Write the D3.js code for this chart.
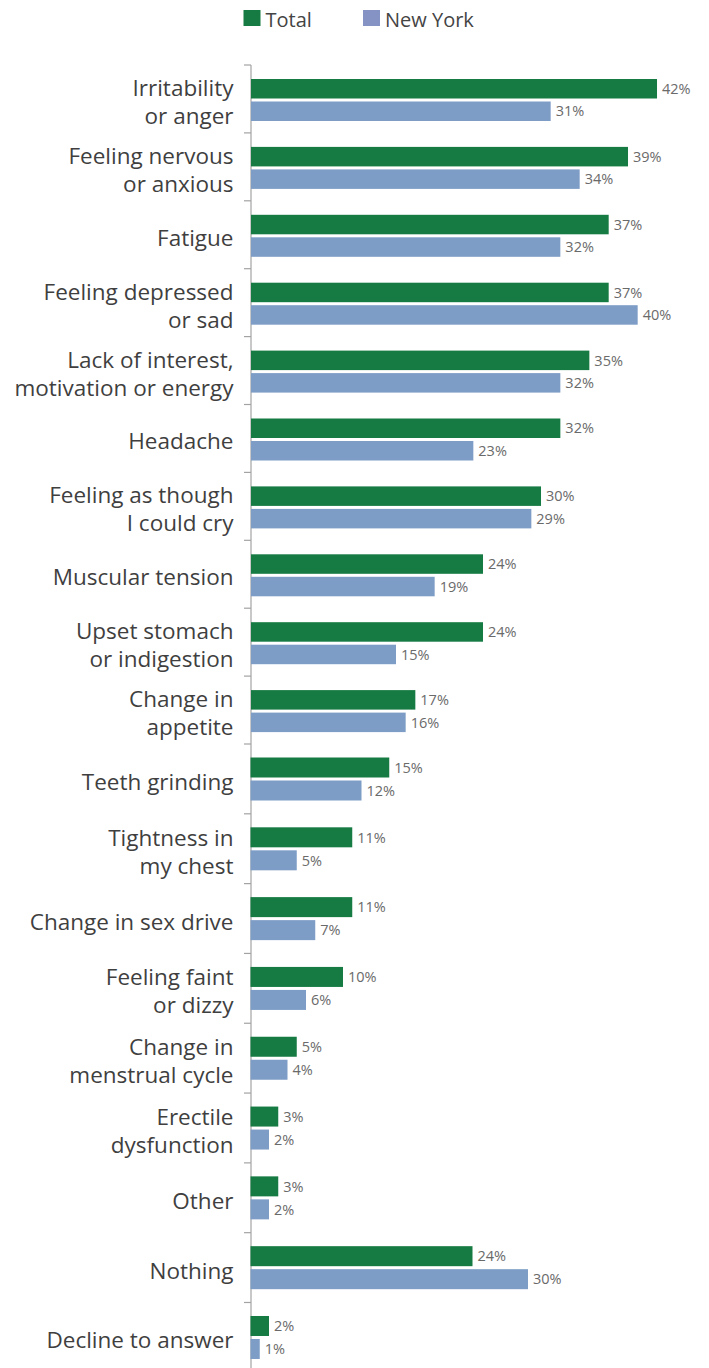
<!DOCTYPE html>
<html>
<head>
<meta charset="utf-8">
<script src="https://cdn.jsdelivr.net/npm/d3@7"></script>
<style>
  html, body { margin: 0; padding: 0; background: #fff; }
  svg { display: block; }
</style>
</head>
<body>
<svg id="chart" width="709" height="1368"></svg>
<script>
const categories = [
  ["Irritability", "or anger"],
  ["Feeling nervous", "or anxious"],
  ["Fatigue"],
  ["Feeling depressed", "or sad"],
  ["Lack of interest,", "motivation or energy"],
  ["Headache"],
  ["Feeling as though", "I could cry"],
  ["Muscular tension"],
  ["Upset stomach", "or indigestion"],
  ["Change in", "appetite"],
  ["Teeth grinding"],
  ["Tightness in", "my chest"],
  ["Change in sex drive"],
  ["Feeling faint", "or dizzy"],
  ["Change in", "menstrual cycle"],
  ["Erectile", "dysfunction"],
  ["Other"],
  ["Nothing"],
  ["Decline to answer"]
];
const totalValues = [42, 39, 37, 37, 35, 32, 30, 24, 24, 17, 15, 11, 11, 10, 5, 3, 3, 24, 2];
const newYorkValues = [31, 34, 32, 40, 32, 23, 29, 19, 15, 16, 12, 5, 7, 6, 4, 2, 2, 30, 1];
const seriesNames = ["Total", "New York"];

const colors = { total: "#167a43", ny: "#7e9dc6", nyLegend: "#8492c4", axis: "#a3a3a3" };
const FONT = "'Open Sans', sans-serif";
const svg = d3.select("#chart");

// The reference is composed of two stacked panels (rows 0-9 and 10-18)
// drawn at slightly different scales.
const splitAt = 10;
const panels = [
  { rows: d3.range(0, splitAt), y0: 65, y1: 744, x0: 251, pxPerPct: 9.667, barOff: 14, barH: 19.5 },
  { rows: d3.range(splitAt, categories.length), y0: 744, y1: 1372.3, x0: 250.5, pxPerPct: 9.25, barOff: 13.5, barH: 20 }
];
panels.forEach(p => {
  p.x = d3.scaleLinear().domain([0, 10]).range([p.x0, p.x0 + 10 * p.pxPerPct]);
  p.y = d3.scaleBand().domain(p.rows).range([p.y0, p.y1]);
});
const panelOf = i => (i < splitAt ? panels[0] : panels[1]);
const gap = 3;

// axis line
svg.append("line")
  .attr("x1", 251).attr("x2", 251)
  .attr("y1", panels[0].y0).attr("y2", 1368)
  .attr("stroke", colors.axis).attr("stroke-width", 1.2);

// ticks at band boundaries
svg.selectAll("line.tick").data(d3.range(categories.length)).enter().append("line")
  .attr("class", "tick")
  .attr("x1", 244).attr("x2", 251)
  .attr("y1", i => panelOf(i).y(i)).attr("y2", i => panelOf(i).y(i))
  .attr("stroke", colors.axis).attr("stroke-width", 1.2);

const g = svg.append("g");

const rows = categories.map((c, i) => ({ i, total: totalValues[i], ny: newYorkValues[i] }));

// total bars
g.selectAll("rect.total").data(rows).enter().append("rect")
  .attr("class", "total")
  .attr("x", d => panelOf(d.i).x(0))
  .attr("y", d => panelOf(d.i).y(d.i) + panelOf(d.i).barOff)
  .attr("width", d => panelOf(d.i).x(d.total) - panelOf(d.i).x(0))
  .attr("height", d => panelOf(d.i).barH)
  .attr("fill", colors.total);

// NY bars
g.selectAll("rect.ny").data(rows).enter().append("rect")
  .attr("class", "ny")
  .attr("x", d => panelOf(d.i).x(0))
  .attr("y", d => panelOf(d.i).y(d.i) + panelOf(d.i).barOff + panelOf(d.i).barH + gap)
  .attr("width", d => panelOf(d.i).x(d.ny) - panelOf(d.i).x(0))
  .attr("height", d => panelOf(d.i).barH)
  .attr("fill", colors.ny);

// value labels
function valueLabels(key, shift) {
  g.selectAll("text.v" + key).data(rows).enter().append("text")
    .attr("class", "v" + key)
    .attr("x", d => panelOf(d.i).x(d[key]) + 5)
    .attr("y", d => {
      const p = panelOf(d.i);
      return p.y(d.i) + p.barOff + p.barH / 2 + shift * (p.barH + gap);
    })
    .attr("dy", "0.36em")
    .attr("font-family", FONT)
    .attr("font-size", 14.5)
    .attr("fill", "#6a6a6a")
    .text(d => d[key] + "%");
}
valueLabels("total", 0);
valueLabels("ny", 1);

// category labels
const lab = svg.selectAll("text.cat").data(categories).enter().append("text")
  .attr("class", "cat")
  .attr("text-anchor", "end")
  .attr("font-family", FONT)
  .attr("font-size", 22.5)
  .attr("fill", "#3f3f3f");
lab.each(function(d, i) {
  const t = d3.select(this);
  const p = panelOf(i);
  const cy = p.y(i) + p.y.bandwidth() / 2 + 3;
  const lh = 28;
  d.forEach((line, j) => {
    t.append("tspan")
      .attr("x", 233.5)
      .attr("y", cy + (j - (d.length - 1) / 2) * lh + 8)
      .text(line);
  });
});

// legend
const legend = svg.append("g");
const legItems = [
  { name: seriesNames[0], color: colors.total, x: 243.5 },
  { name: seriesNames[1], color: colors.nyLegend, x: 363 }
];
legItems.forEach(it => {
  legend.append("rect").attr("x", it.x).attr("y", 10).attr("width", 17).attr("height", 16).attr("fill", it.color);
  legend.append("text").attr("x", it.x + 22).attr("y", 26.5)
    .attr("font-family", FONT).attr("font-size", 20).attr("fill", "#444")
    .text(it.name);
});
</script>
</body>
</html>
